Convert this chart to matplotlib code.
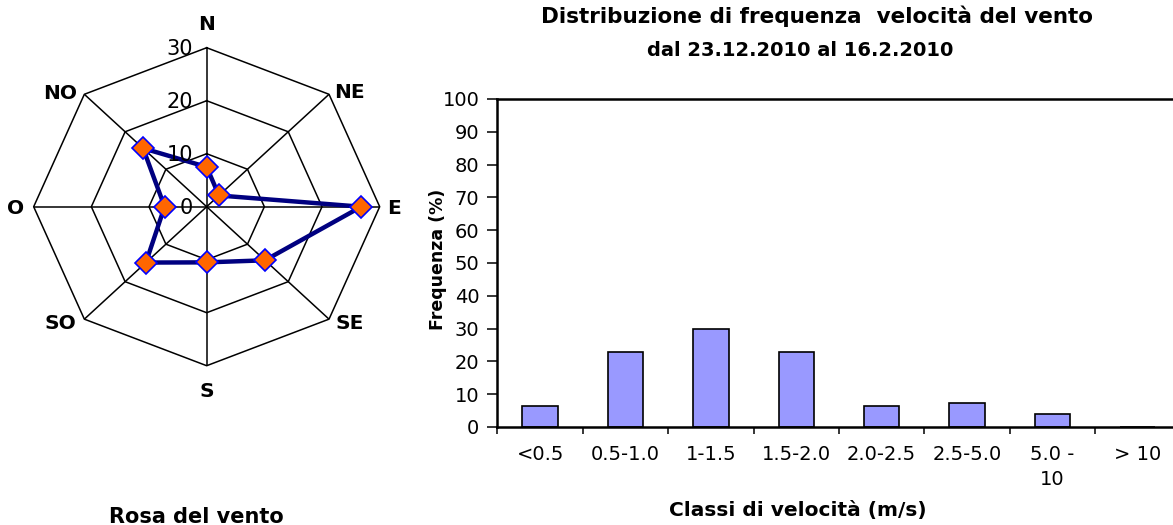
import numpy as np
import matplotlib
matplotlib.use('Agg')
import matplotlib.pyplot as plt

plt.rcParams['font.family'] = ['DejaVu Sans']

# dati rosa del vento (%)
direzioni = ['N', 'NE', 'E', 'SE', 'S', 'SO', 'O', 'NO']
frequenze_dir = [7.5, 3.0, 26.8, 14.3, 10.5, 14.9, 7.3, 15.6]
anelli = [10, 20, 30]
etichette_r = [0, 10, 20, 30]

# dati distribuzione velocita'
classi = ['<0.5', '0.5-1.0', '1-1.5', '1.5-2.0', '2.0-2.5', '2.5-5.0', '5.0 -\n10', '> 10']
frequenze_vel = [6.3, 22.9, 29.8, 22.9, 6.3, 7.4, 4.0, 0]
yticks_vel = [0, 10, 20, 30, 40, 50, 60, 70, 80, 90, 100]

# scostamento etichette direzioni (punti) rispetto al vertice esterno
off_dir = [(0, 12.7), (14.6, -2.9), (10.5, -5.3), (14.6, -7.2),
           (0, -22.3), (-17.6, -7.2), (-12.7, -5.3), (-17.4, -3.1)]

fig = plt.figure(figsize=(11.73, 5.25), dpi=100)

# 1. rosa del vento
ax1 = fig.add_axes([0.0287, 0.3034, 0.2950, 0.6057], projection='polar')
ax1.set_aspect('auto')
ax1.set_theta_zero_location('N')
ax1.set_theta_direction(-1)
theta = np.deg2rad(np.arange(len(direzioni)) * 360.0 / len(direzioni))
theta_c = np.append(theta, theta[0])

for r in anelli:
    ax1.plot(theta_c, [r] * len(theta_c), color='black', lw=1.1, clip_on=False, zorder=2)

ax1.plot(theta_c, frequenze_dir + frequenze_dir[:1], color='#000080', lw=3.2, zorder=3)
ax1.plot(theta, frequenze_dir, ls='none', marker='D', ms=11.5, mfc='#FF6600',
         mec='#0000FF', mew=1.2, zorder=4, clip_on=False)

ax1.set_ylim(0, anelli[-1])
ax1.set_xticks(theta)
ax1.set_xticklabels([])
ax1.set_yticks(etichette_r)
ax1.set_yticklabels([])
ax1.tick_params(length=0)
ax1.yaxis.grid(False)
ax1.xaxis.grid(True, color='black', lw=1.1)
ax1.spines['polar'].set_visible(False)

for t, lab, off in zip(theta, direzioni, off_dir):
    ax1.annotate(lab, xy=(t, anelli[-1]), xytext=off, textcoords='offset points',
                 ha='center', va='baseline', fontsize=14.5, fontweight='bold',
                 annotation_clip=False)

for r in etichette_r:
    ax1.annotate(str(r), xy=(0, r), xytext=(-10, -5.5), textcoords='offset points',
                 ha='right', va='baseline', fontsize=15, annotation_clip=False)

fig.text(196.7 / 1173, 1 - 523 / 525, 'Rosa del vento', ha='center', va='baseline',
         fontsize=15, fontweight='bold')

# 2. distribuzione di frequenza velocita'
ax2 = fig.add_axes([0.4241, 0.1867, 0.5821, 0.6248])
x = np.arange(len(classi))
ax2.bar(x, frequenze_vel, width=0.414, color='#9999FF', edgecolor='black', lw=1.2)
ax2.set_xlim(-0.5, len(classi) - 0.5)
ax2.set_ylim(0, 100)
ax2.set_yticks(yticks_vel)
ax2.set_xticks(x)
ax2.set_xticklabels(classi, fontsize=14, linespacing=1.4)
ax2.set_xticks(np.arange(len(classi) + 1) - 0.5, minor=True)
ax2.tick_params(axis='x', which='major', length=0, pad=13)
ax2.tick_params(axis='x', which='minor', length=5, width=1.1, direction='out')
ax2.tick_params(axis='y', length=7, width=1.1, direction='out', pad=6, labelsize=14)
for s in ax2.spines.values():
    s.set_linewidth(1.8)

ax2.set_ylabel('Frequenza (%)', fontsize=12.5, fontweight='bold', va='center')
ax2.yaxis.set_label_coords(-0.0874, 0.5122)
ax2.set_xlabel('Classi di velocità (m/s)', fontsize=14.5, fontweight='bold', va='baseline')
ax2.xaxis.set_label_coords(0.4397, -0.2713)

fig.text(817 / 1173, 1 - 23 / 525, 'Distribuzione di frequenza  velocità del vento',
         ha='center', va='baseline', fontsize=15.5, fontweight='bold')
fig.text(800 / 1173, 1 - 56.3 / 525, 'dal 23.12.2010 al 16.2.2010',
         ha='center', va='baseline', fontsize=14, fontweight='bold')

fig.savefig('out.png', dpi=100)
